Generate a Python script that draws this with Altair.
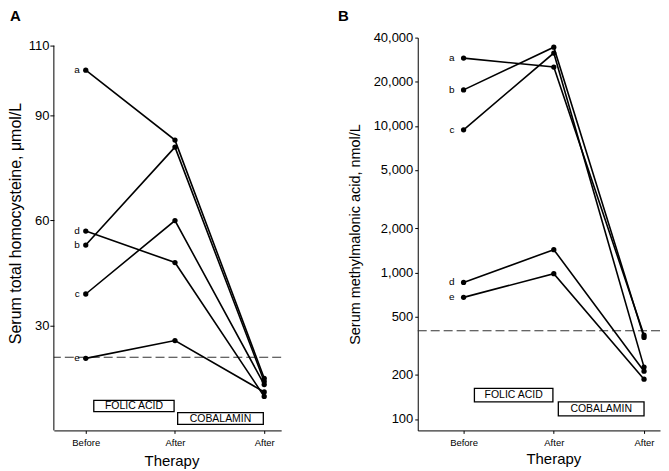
import altair as alt
import pandas as pd

FONT = "Liberation Sans"

patients = ["a", "b", "c", "d", "e"]
steps = [0, 1, 2]
step_labels = ["Before", "After", "After"]

# Panel A: serum total homocysteine, umol/L
hcy_before = [103.0, 53.0, 39.0, 57.0, 20.6]
hcy_after_folate = [83.0, 81.0, 60.0, 48.0, 25.7]
hcy_after_cobalamin = [14.9, 14.0, 13.1, 9.7, 11.0]
hcy_upper_normal = 20.9
hcy_ticks = [30, 60, 90, 110]

# Panel B: serum methylmalonic acid, nmol/L
mma_before = [29000, 17600, 9400, 855, 676]
mma_after_folate = [25200, 34400, 31400, 1430, 980]
mma_after_cobalamin = [373, 360, 226, 212, 187]
mma_upper_normal = 400
mma_ticks = [100, 200, 500, 1000, 2000, 5000, 10000, 20000, 40000]

# Treatment annotation boxes (step span, value span)
treatments = ["FOLIC ACID", "COBALAMIN"]
hcy_box_steps = [(0.09, 0.99), (1.03, 1.99)]
hcy_box_values = [(8.6, 5.4), (5.1, 1.7)]
mma_box_steps = [(0.12, 0.99), (1.05, 2.0)]
mma_box_values = [(162, 131), (131, 105)]


def long_frame(before, mid, after):
    rows = []
    for i, p in enumerate(patients):
        for s, v in zip(steps, [before[i], mid[i], after[i]]):
            rows.append({"patient": p, "step": s, "value": v})
    return pd.DataFrame(rows)


def box_frame(box_steps, box_values, log=False):
    rows = []
    for lab, (s1, s2), (v1, v2) in zip(treatments, box_steps, box_values):
        mid_v = (v1 * v2) ** 0.5 if log else (v1 + v2) / 2
        rows.append({"label": lab, "step": s1, "step2": s2, "value": v1,
                     "value2": v2, "smid": (s1 + s2) / 2, "vmid": mid_v})
    return pd.DataFrame(rows)


label_expr = "[" + ",".join("'%s'" % s for s in step_labels) + "][datum.value]"


def panel(df, boxes, xdomain, ydomain, ylog, yticks, ytitle, ytitle_x, ytitle_y,
          xtitle_x, xtitle_y, upper, letter, letter_x, width, height, yaxis_rule=None,
          label_dx=-7):
    xscale = alt.Scale(domain=xdomain, nice=False, zero=False)
    xaxis = alt.Axis(values=steps, labelExpr=label_expr, title="Therapy",
                     labelFontSize=9.5, labelPadding=4, tickSize=3,
                     titleFontSize=15, titleX=xtitle_x, titleY=xtitle_y,
                     titleBaseline="top", titleAnchor="start", titleAlign="center",
                     grid=False)
    if ylog:
        yscale = alt.Scale(type="log", domain=ydomain, nice=False)
        yaxis = alt.Axis(values=yticks, format=",", title=ytitle, labelFontSize=13,
                         tickSize=3, labelPadding=2, titleFontSize=14.5,
                         titleX=ytitle_x, titleY=ytitle_y, titleAngle=-90,
                         titleAlign="center", titleBaseline="middle", grid=False)
    else:
        yscale = alt.Scale(domain=ydomain, nice=False, zero=False)
        yaxis = alt.Axis(values=yticks, title=ytitle, labelFontSize=13, tickSize=4,
                         labelPadding=1, domain=False, titleFontSize=16,
                         titleX=ytitle_x, titleY=ytitle_y, titleAngle=-90,
                         titleAlign="center", titleBaseline="middle", grid=False)
    X = alt.X("step:Q", scale=xscale, axis=xaxis)
    Y = alt.Y("value:Q", scale=yscale, axis=yaxis)

    base = alt.Chart(df)
    lines = base.mark_line(color="black", strokeWidth=1.6).encode(x=X, y=Y, detail="patient:N")
    pts = base.mark_point(filled=True, color="black", size=28, opacity=1).encode(x=X, y=Y)
    labs = alt.Chart(df[df["step"] == 0]).mark_text(
        align="right", baseline="middle", dx=label_dx, fontSize=10, font=FONT, color="black"
    ).encode(x=X, y=Y, text="patient:N")
    dash = alt.Chart(pd.DataFrame({"value": [upper]})).mark_rule(
        strokeDash=[9, 4], color="#333333", strokeWidth=1.1
    ).encode(y=Y)
    rect = alt.Chart(boxes).mark_rect(fill="white", stroke="black", strokeWidth=1.3).encode(
        x=X, x2="step2:Q", y=Y, y2="value2:Q")
    rtext = alt.Chart(boxes).mark_text(fontSize=10.5, font=FONT, color="black",
                                       baseline="middle").encode(
        x=alt.X("smid:Q", scale=xscale, axis=xaxis),
        y=alt.Y("vmid:Q", scale=yscale, axis=yaxis), text="label:N")
    let = alt.Chart(pd.DataFrame({"t": [letter]})).mark_text(
        fontSize=15, fontWeight="bold", font=FONT, align="left", baseline="top", color="black"
    ).encode(x=alt.value(letter_x), y=alt.value(-29), text="t:N")
    layers = [dash, lines, pts, labs, rect, rtext, let]
    if yaxis_rule is not None:
        dom = alt.Chart(pd.DataFrame({"value": [yaxis_rule[0]], "value2": [yaxis_rule[1]]})).mark_rule(
            color="black", strokeWidth=1).encode(x=alt.value(0), y=Y, y2="value2:Q")
        layers.append(dom)
    return alt.layer(*layers).properties(width=width, height=height)


hcy = long_frame(hcy_before, hcy_after_folate, hcy_after_cobalamin)
mma = long_frame(mma_before, mma_after_folate, mma_after_cobalamin)

A = panel(hcy, box_frame(hcy_box_steps, hcy_box_values), [-0.3575, 2.19], [0, 112.3], False,
          hcy_ticks, "Serum total homocysteine, μmol/L", -38, 186, 118, 23,
          hcy_upper_normal, "A", -44, 228, 394, yaxis_rule=(0, 110), label_dx=-6)
B = panel(mma, box_frame(mma_box_steps, mma_box_values, log=True), [-0.508, 2.177],
          [83.6, 40000], True, mma_ticks, "Serum methylmalonic acid, nmol/L", -62, 197,
          136, 21, mma_upper_normal, "B", -80, 243, 394, label_dx=-9)

chart = alt.hconcat(A, B, spacing=137, bounds="flush").properties(
    padding={"left": 0, "top": 0, "right": 0, "bottom": 0}
).configure_view(stroke=None).configure_axis(
    labelFont=FONT, titleFont=FONT, labelColor="black", titleColor="black",
    domainColor="black", tickColor="black", titleFontWeight="normal", grid=False
)

chart.save("out.html", embed_options={"renderer": "svg", "actions": False})
